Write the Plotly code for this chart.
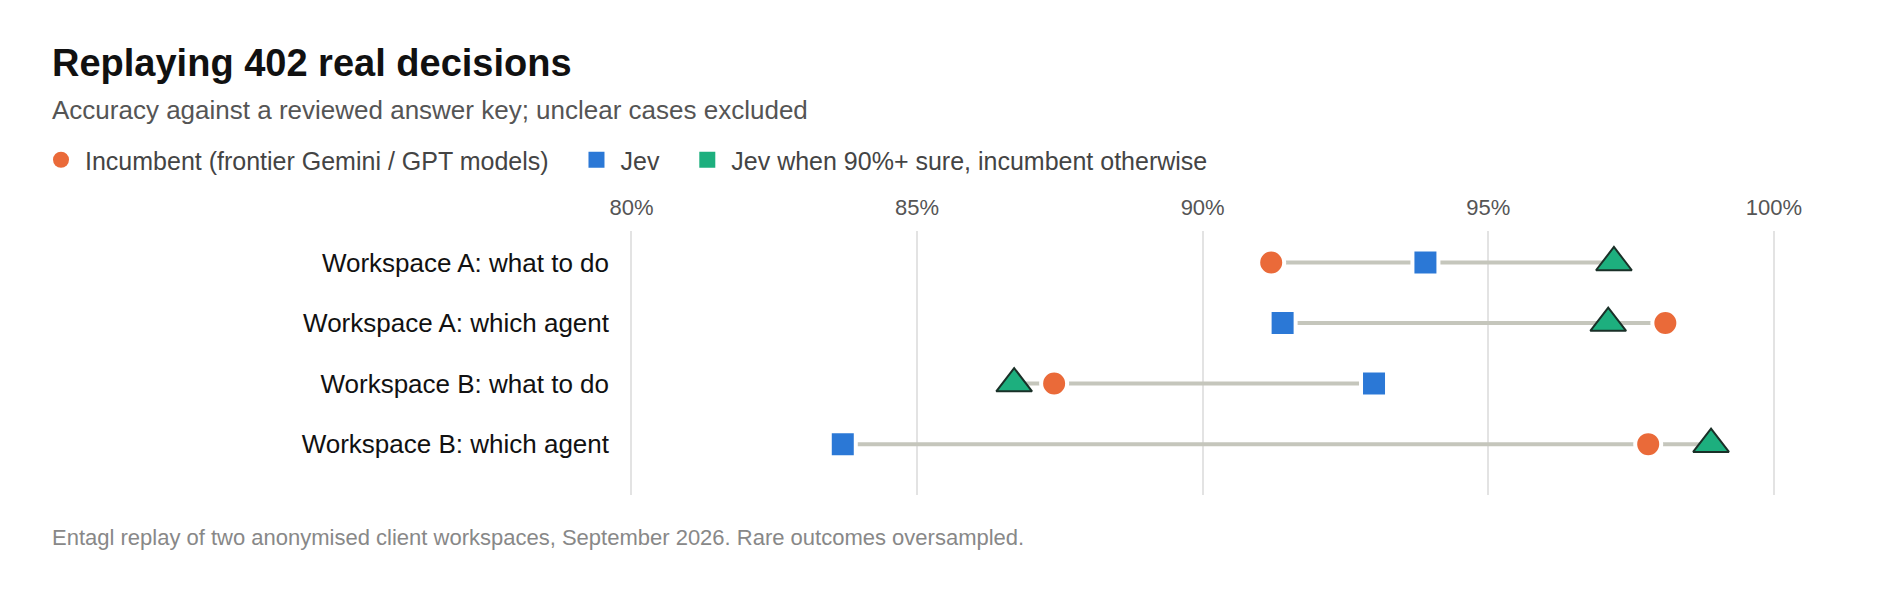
import plotly.graph_objects as go

# Rows, top to bottom
categories = [
    "Workspace A: what to do",
    "Workspace A: which agent",
    "Workspace B: what to do",
    "Workspace B: which agent",
]

# Accuracy in percent
incumbent = [91.2, 98.1, 87.4, 97.8]
jev = [93.9, 91.4, 93.0, 83.7]
jev_confident = [97.2, 97.1, 86.7, 98.9]

x_ticks = [80, 85, 90, 95, 100]
x_tick_labels = ["80%", "85%", "90%", "95%", "100%"]

series_names = [
    "Incumbent (frontier Gemini / GPT models)",
    "Jev",
    "Jev when 90%+ sure, incumbent otherwise",
]

ORANGE = "#EA6A39"
BLUE = "#2B78D6"
GREEN = "#1DAF7E"
LINE_GREY = "#C5C6BC"
FONT = "Liberation Sans, Arial, sans-serif"

W, H = 1900, 592
M_L, M_R, M_T, M_B = 612, 77, 223, 105
plot_h = H - M_T - M_B
plot_w = W - M_L - M_R


def paper_x(px):
    return (px - M_L) / plot_w


def paper_y(py):
    return (H - M_B - py) / plot_h


# connector from the lowest to the highest value in each row
line_x, line_y = [], []
for cat, a, b, c in zip(categories, incumbent, jev, jev_confident):
    line_x += [min(a, b, c), max(a, b, c), None]
    line_y += [cat, cat, None]

fig = go.Figure()

fig.add_trace(go.Scatter(
    x=line_x, y=line_y, mode="lines",
    line=dict(color=LINE_GREY, width=4),
    showlegend=False, hoverinfo="skip",
))

fig.add_trace(go.Scatter(
    x=incumbent, y=categories, mode="markers", name=series_names[0],
    marker=dict(symbol="circle", size=26, color=ORANGE,
                line=dict(color="white", width=4)),
    showlegend=False,
))
fig.add_trace(go.Scatter(
    x=jev, y=categories, mode="markers", name=series_names[1],
    marker=dict(symbol="square", size=26, color=BLUE,
                line=dict(color="white", width=4)),
    showlegend=False,
))
fig.add_trace(go.Scatter(
    x=jev_confident, y=categories, mode="markers", name=series_names[2],
    marker=dict(symbol="triangle-up", size=31, color=GREEN,
                line=dict(color="#1A3028", width=2)),
    showlegend=False,
))

# legend entries (the legend shows plain swatches); trailing spaces widen the gaps
legend_symbols = ["circle", "square", "square"]
legend_colors = [ORANGE, BLUE, GREEN]
for name, sym, col in zip(series_names, legend_symbols, legend_colors):
    fig.add_trace(go.Scatter(
        x=[None], y=[None], mode="markers", name=name + "\u00a0\u00a0\u2009",
        marker=dict(symbol=sym, size=18, color=col),
    ))

fig.update_layout(
    width=W, height=H,
    margin=dict(l=M_L, r=M_R, t=M_T, b=M_B),
    paper_bgcolor="white", plot_bgcolor="white",
    font=dict(family=FONT, size=24, color="#444444"),
    title=dict(
        text="<b>Replaying 402 real decisions</b>",
        font=dict(family=FONT, size=38, color="#111111"),
        xref="container", yref="container",
        x=44 / W, y=1 - 55 / H, xanchor="left", yanchor="middle",
    ),
    legend=dict(
        orientation="h",
        xref="container", yref="container",
        x=29 / W, y=1 - 152 / H, xanchor="left", yanchor="middle",
        font=dict(family=FONT, size=25, color="#444444"),
        bgcolor="rgba(0,0,0,0)",
        itemwidth=38,
    ),
    xaxis=dict(
        side="top", range=[79.8, 101],
        tickmode="array", tickvals=x_ticks, ticktext=x_tick_labels,
        showgrid=True, gridcolor="#E3E3E3", gridwidth=2,
        zeroline=False, showline=False, ticks="",
        tickfont=dict(family=FONT, size=22, color="#555555"),
        ticklabelstandoff=11,
    ),
    yaxis=dict(
        type="category", categoryorder="array", categoryarray=categories,
        range=[3.84, -0.52],
        showgrid=False, zeroline=False, showline=False, ticks="",
        tickfont=dict(family=FONT, size=26, color="#111111"),
        ticklabelstandoff=10,
    ),
    annotations=[
        dict(
            text="Accuracy against a reviewed answer key; unclear cases excluded",
            xref="paper", yref="paper", x=paper_x(41.5), y=paper_y(102.5),
            xanchor="left", yanchor="middle", showarrow=False,
            font=dict(family=FONT, size=26, color="#555555"),
        ),
        dict(
            text="Entagl replay of two anonymised client workspaces, September 2026. Rare outcomes oversampled.",
            xref="paper", yref="paper", x=paper_x(41.5), y=paper_y(529.5),
            xanchor="left", yanchor="middle", showarrow=False,
            font=dict(family=FONT, size=22, color="#888888"),
        ),
    ],
)

fig.write_html("out.html")
